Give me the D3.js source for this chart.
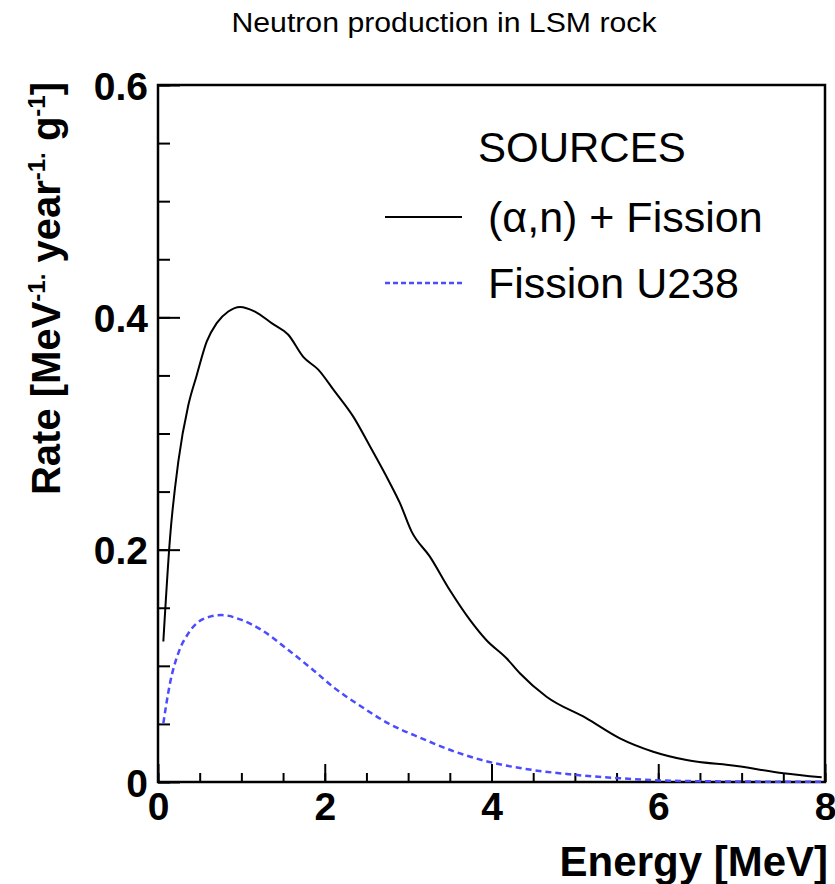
<!DOCTYPE html>
<html>
<head>
<meta charset="utf-8">
<script src="https://cdn.jsdelivr.net/npm/d3@7"></script>
<style>
  html, body { margin: 0; padding: 0; background: #fff; }
  svg { display: block; }
  text { font-family: "Liberation Sans", Arial, Helvetica, sans-serif; }
</style>
</head>
<body>
<svg id="chart" width="835" height="884"></svg>
<script>
// Neutron energy spectrum: (alpha,n) + fission total, and U238 spontaneous fission alone
const energyTotal = [0.064, 0.144, 0.244, 0.364, 0.464, 0.584, 0.704, 0.843, 0.983, 1.163,
  1.363, 1.563, 1.742, 1.922, 2.122, 2.342, 2.542, 2.762, 2.902, 3.042, 3.261, 3.501,
  3.741, 3.94, 4.18, 4.34, 4.66, 5.14, 5.54, 5.94, 6.34, 6.94, 7.5, 7.96];
const rateTotal = [0.121, 0.210, 0.276, 0.3245, 0.350, 0.379, 0.395, 0.405, 0.409, 0.405,
  0.395, 0.385, 0.366, 0.355, 0.336, 0.3145, 0.289, 0.260, 0.240, 0.2155, 0.194, 0.165,
  0.1395, 0.122, 0.1065, 0.0936, 0.0734, 0.0548, 0.0376, 0.0261, 0.0189, 0.0138, 0.0075, 0.004];

const energyFission = [0.064, 0.144, 0.244, 0.364, 0.564, 0.763, 1.003, 1.243, 1.563, 1.843,
  2.122, 2.442, 2.762, 3.162, 3.561, 3.96, 4.36, 4.94, 5.54, 6.14, 7.0, 7.96];
const rateFission = [0.0505, 0.085, 0.111, 0.128, 0.141, 0.1437, 0.1395, 0.1308, 0.1136, 0.0975,
  0.0806, 0.0648, 0.0505, 0.0376, 0.0261, 0.0175, 0.0118, 0.0066, 0.0032, 0.0011, 0.0004, 0.0002];

const seriesNames = ["(\u03b1,n) + Fission", "Fission U238"];
const xMajorTicks = [0, 2, 4, 6, 8];
const yMajorTicks = [0, 0.2, 0.4, 0.6];
const yTickLabels = ["0", "0.2", "0.4", "0.6"];

const svg = d3.select("#chart");
const plot = { left: 158, right: 825, top: 85, bottom: 782 };

const x = d3.scaleLinear().domain([0, 8]).range([plot.left, plot.right]);
const y = d3.scaleLinear().domain([0, 0.6]).range([plot.bottom, plot.top]);

// Title
svg.append("text")
  .attr("x", 444).attr("y", 32)
  .attr("text-anchor", "middle")
  .attr("font-size", 27)
  .attr("transform", "translate(444,0) scale(1.12,1) translate(-444,0)")
  .text("Neutron production in LSM rock");

// Minor + major ticks, pointing inward
const gx = svg.append("g").attr("transform", `translate(0,${plot.bottom})`);
gx.call(d3.axisBottom(x).tickValues(d3.range(0, 8.001, 0.5)).tickSizeInner(-9).tickSizeOuter(0).tickFormat(""));
gx.call(g => g.select(".domain").remove());
const gxMaj = svg.append("g").attr("transform", `translate(0,${plot.bottom})`);
gxMaj.call(d3.axisBottom(x).tickValues(xMajorTicks).tickSizeInner(-18).tickSizeOuter(0).tickPadding(10).tickFormat(d3.format("d")));
gxMaj.select(".domain").remove();

const gy = svg.append("g").attr("transform", `translate(${plot.left},0)`);
gy.call(d3.axisLeft(y).tickValues(d3.range(0, 0.6001, 0.05)).tickSizeInner(-12).tickSizeOuter(0).tickFormat(""));
gy.select(".domain").remove();
const gyMaj = svg.append("g").attr("transform", `translate(${plot.left},0)`);
gyMaj.call(d3.axisLeft(y).tickValues(yMajorTicks).tickSizeInner(-22).tickSizeOuter(0).tickPadding(10)
  .tickFormat((d, i) => yTickLabels[i]));
gyMaj.select(".domain").remove();

svg.selectAll(".tick line").attr("stroke", "#000").attr("stroke-width", 2);
svg.selectAll(".tick text")
  .attr("fill", "#000")
  .attr("font-family", "'Liberation Sans', Arial, sans-serif")
  .attr("font-weight", "bold")
  .attr("font-size", 39);
gxMaj.selectAll(".tick text").attr("dy", "0.71em");
gyMaj.selectAll(".tick text").attr("dy", "0.36em");

// Frame
svg.append("rect")
  .attr("x", plot.left).attr("y", plot.top)
  .attr("width", plot.right - plot.left).attr("height", plot.bottom - plot.top)
  .attr("fill", "none").attr("stroke", "#000").attr("stroke-width", 2.5);

// Curves
const line = d3.line().x(d => x(d[0])).y(d => y(d[1])).curve(d3.curveMonotoneX);

svg.append("path")
  .datum(d3.zip(energyFission, rateFission))
  .attr("d", line)
  .attr("fill", "none").attr("stroke", "#4b4bff").attr("stroke-width", 2.5)
  .attr("stroke-dasharray", "6,4");

svg.append("path")
  .datum(d3.zip(energyTotal, rateTotal))
  .attr("d", line)
  .attr("fill", "none").attr("stroke", "#000").attr("stroke-width", 2);

// Axis titles
svg.append("text")
  .attr("x", 828).attr("y", 876)
  .attr("text-anchor", "end")
  .attr("font-weight", "bold").attr("font-size", 42)
  .text("Energy [MeV]");

const yTitle = svg.append("text")
  .attr("transform", "translate(60,82) rotate(-90)")
  .attr("text-anchor", "end")
  .attr("font-weight", "bold").attr("font-size", 40);
yTitle.append("tspan").text("Rate [MeV");
yTitle.append("tspan").attr("font-size", 24).attr("dy", -15).text("-1.");
yTitle.append("tspan").attr("dy", 15).text(" year");
yTitle.append("tspan").attr("font-size", 24).attr("dy", -15).text("-1.");
yTitle.append("tspan").attr("dy", 15).text(" g");
yTitle.append("tspan").attr("font-size", 24).attr("dy", -15).text("-1");
yTitle.append("tspan").attr("dy", 15).text("]");

// Legend
const legend = svg.append("g");
legend.append("text")
  .attr("x", 478).attr("y", 162)
  .attr("font-size", 42)
  .text("SOURCES");
const legendRows = [
  { name: seriesNames[0], color: "#000", dash: null, width: 2, y: 217 },
  { name: seriesNames[1], color: "#4b4bff", dash: "5,3", width: 2.5, y: 283 }
];
legendRows.forEach(r => {
  legend.append("line")
    .attr("x1", 385).attr("x2", 462).attr("y1", r.y).attr("y2", r.y)
    .attr("stroke", r.color).attr("stroke-width", r.width)
    .attr("stroke-dasharray", r.dash);
  legend.append("text")
    .attr("x", 488).attr("y", r.y + 15)
    .attr("font-size", 43)
    .text(r.name);
});
</script>
</body>
</html>
